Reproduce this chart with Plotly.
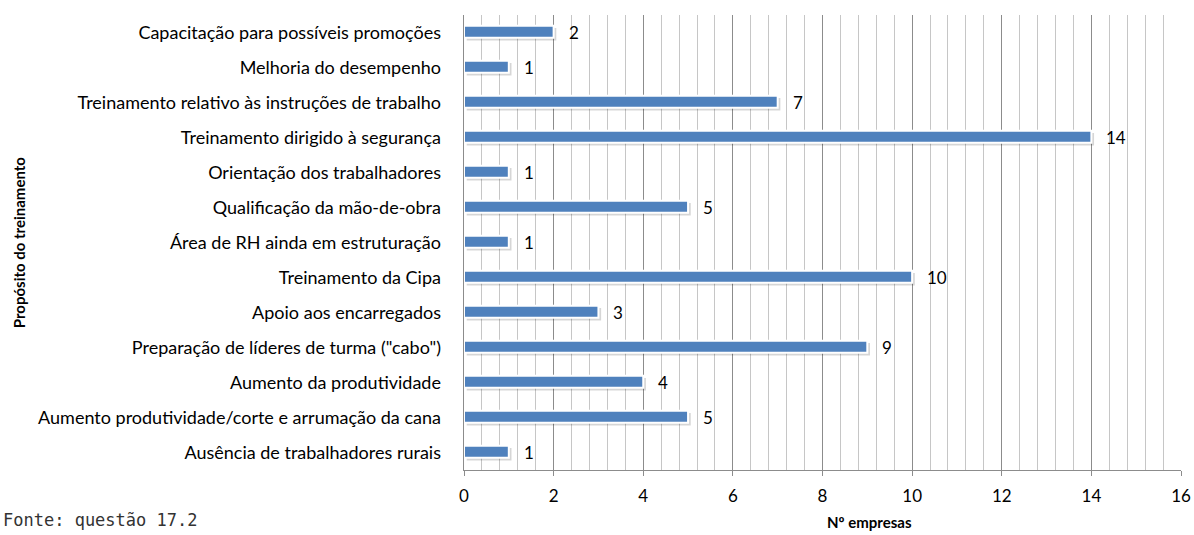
import plotly.graph_objects as go

# Training purposes, listed top to bottom, and number of companies
categories = [
    "Capacitação para possíveis promoções",
    "Melhoria do desempenho",
    "Treinamento relativo às instruções de trabalho",
    "Treinamento dirigido à segurança",
    "Orientação dos trabalhadores",
    "Qualificação da mão-de-obra",
    "Área de RH ainda em estruturação",
    "Treinamento da Cipa",
    "Apoio aos encarregados",
    "Preparação de líderes de turma (\"cabo\")",
    "Aumento da produtividade",
    "Aumento produtividade/corte e arrumação da cana",
    "Ausência de trabalhadores rurais",
]
empresas = [2, 1, 7, 14, 1, 5, 1, 10, 3, 9, 4, 5, 1]
x_ticks = [0, 2, 4, 6, 8, 10, 12, 14, 16]

FONT = "Lato"
BAR = "#4F81BD"

fig = go.Figure()

# soft drop shadow under each bar
fig.add_trace(go.Bar(
    x=empresas, y=categories, orientation="h",
    base=0.06, width=0.36, offset=-0.13,
    marker=dict(color="rgba(0,0,0,0.16)", line=dict(width=0)),
    hoverinfo="skip", showlegend=False,
))
# main bars with white rim
fig.add_trace(go.Bar(
    x=empresas, y=categories, orientation="h",
    width=0.34, offset=-0.19,
    marker=dict(color=BAR, line=dict(color="white", width=2)),
    showlegend=False,
))

# value labels to the right of each bar
for c, v in zip(categories, empresas):
    fig.add_annotation(
        x=v, y=c, text=str(v), showarrow=False,
        xanchor="left", xshift=13,
        font=dict(family=FONT, size=17, color="black"),
    )

# source note, bottom left
fig.add_annotation(
    xref="paper", yref="paper", x=-0.646, y=-0.084,
    text="Fonte: questão 17.2", showarrow=False,
    xanchor="left", yanchor="top",
    font=dict(family="DejaVu Sans Mono", size=17, color="#333"),
)

# axis titles
fig.add_annotation(
    xref="paper", yref="paper", x=-0.621, y=0.5,
    text="<b>Propósito do treinamento</b>", showarrow=False, textangle=-90,
    xanchor="center", yanchor="middle",
    font=dict(family=FONT, size=15, color="black"),
)
fig.add_annotation(
    xref="paper", yref="paper", x=0.565, y=-0.1385,
    text="<b>Nº empresas</b>", showarrow=False,
    xanchor="center", yanchor="bottom",
    font=dict(family=FONT, size=15, color="black"),
)

fig.update_layout(
    width=1194, height=535,
    margin=dict(l=464, r=13, t=15, b=65),
    paper_bgcolor="white", plot_bgcolor="white",
    bargap=0.5,
    font=dict(family=FONT, size=18, color="black"),
    xaxis=dict(
        range=[0, 16], tickvals=x_ticks, automargin=False,
        showgrid=True, gridcolor="#8c8c8c", gridwidth=1,
        minor=dict(dtick=0.4, showgrid=True, gridcolor="#c6c6c6", gridwidth=1),
        showline=True, linecolor="#8c8c8c", linewidth=1,
        ticks="outside", ticklen=5, tickcolor="#8c8c8c",
        ticklabelstandoff=6,
        tickfont=dict(family=FONT, size=17),
        zeroline=False,
    ),
    yaxis=dict(
        categoryorder="array", categoryarray=categories,
        autorange="reversed", automargin=False,
        showline=True, linecolor="#8c8c8c", linewidth=1,
        ticks="", ticklen=0, showgrid=False,
        tickfont=dict(family=FONT, size=18),
        ticksuffix="    ",
    ),
)

fig.write_html("out.html")
